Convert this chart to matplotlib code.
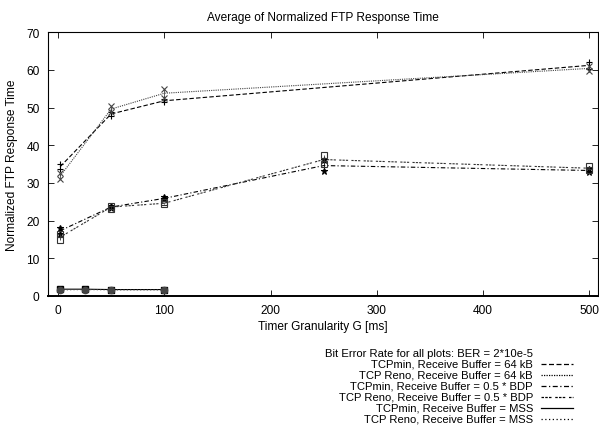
import matplotlib
matplotlib.use("Agg")
import matplotlib.pyplot as plt
from matplotlib.lines import Line2D

plt.rcParams['font.family'] = ['Liberation Sans', 'DejaVu Sans']
plt.rcParams['font.size'] = 8.6

# data
title = "Average of Normalized FTP Response Time"
x_label = "Timer Granularity G [ms]"
y_label = "Normalized FTP Response Time"
legend_head = "Bit Error Rate for all plots: BER = 2*10e-5"

labels = ["TCPmin, Receive Buffer = 64 kB",
          "TCP Reno, Receive Buffer = 64 kB",
          "TCPmin, Receive Buffer = 0.5 * BDP",
          "TCP Reno, Receive Buffer = 0.5 * BDP",
          "TCPmin, Receive Buffer = MSS",
          "TCP Reno, Receive Buffer = MSS"]

x_64 = [2, 50, 100, 500]
min_64 = [34.3, 48.3, 51.8, 61.2]
min_64_err = [0.6, 0.5, 0.4, 1.0]
reno_64 = [31.8, 49.6, 53.8, 60.4]
reno_64_err = [0.8, 0.8, 1.2, 0.6]

x_bdp = [2, 50, 100, 250, 500]
min_bdp = [17.3, 23.6, 25.9, 34.6, 33.3]
min_bdp_err = [0.8, 0.3, 0.3, 1.5, 0.4]
reno_bdp = [15.6, 23.6, 24.6, 36.2, 33.9]
reno_bdp_err = [0.8, 0.4, 0.3, 1.2, 0.5]

x_mss = [2, 25, 50, 100]
min_mss = [1.8, 1.8, 1.7, 1.7]
reno_mss = [1.6, 1.7, 1.6, 1.6]

styles = [(0, (4, 2)), (0, (1, 1)), (0, (4, 2, 1, 2)),
          (0, (2, 1, 2, 1, 2, 3)), '-', (0, (1, 2))]
markers = ['+', 'x', '*', 's', 's', 'o']
colors = ['black', '#444444', 'black', '#333333', 'black', '#444444']

fig = plt.figure(figsize=(5.99, 4.31), dpi=100)
ax = fig.add_axes([0.080, 0.311, 0.918, 0.612])

series = [(x_64, min_64, min_64_err), (x_64, reno_64, reno_64_err),
          (x_bdp, min_bdp, min_bdp_err), (x_bdp, reno_bdp, reno_bdp_err),
          (x_mss, min_mss, None), (x_mss, reno_mss, None)]

for i, (xs, ys, err) in enumerate(series):
    mfc = 'none' if i == 3 else colors[i]
    ax.plot(xs, ys, linestyle=styles[i], color=colors[i], lw=0.8)
    if err is not None:
        lo = [y - e for y, e in zip(ys, err)]
        hi = [y + e for y, e in zip(ys, err)]
        ax.vlines(xs, lo, hi, color=colors[i], lw=0.6)
        ax.plot(xs + xs, lo + hi, linestyle='none', marker=markers[i],
                ms=4.5, mfc=mfc, mec=colors[i], mew=0.8)
    else:
        ax.plot(xs, ys, linestyle='none', marker=markers[i], ms=4.5,
                color=colors[i])

ax.set_xlim(-9.5, 508)
ax.set_ylim(0, 70)
ax.set_xticks([0, 100, 200, 300, 400, 500])
ax.set_yticks(range(0, 71, 10))
ax.tick_params(direction='in', top=True, right=True, length=4, width=0.6, pad=6)
for s in ax.spines.values():
    s.set_linewidth(0.8)
ax.spines['bottom'].set_linewidth(1.4)

ax.set_title(title, fontsize=8.6, pad=9)
ax.set_xlabel(x_label, labelpad=3)
ax.set_ylabel(y_label, labelpad=6)

# key drawn under the plot, text right aligned with the sample at the right
key_size = 8.1
fig.text(533 / 599, 1 - 354 / 431, legend_head, ha='right', va='center',
         fontsize=key_size)
row_y = [365, 376, 387, 398, 409, 420]
for i, lab in enumerate(labels):
    yy = 1 - row_y[i] / 431
    fig.text(533 / 599, yy, lab, ha='right', va='center', fontsize=key_size)
    fig.add_artist(Line2D([541 / 599, 573 / 599], [yy, yy], color='black',
                          linestyle=styles[i], lw=0.9,
                          transform=fig.transFigure))

fig.savefig("out.png", dpi=100)
